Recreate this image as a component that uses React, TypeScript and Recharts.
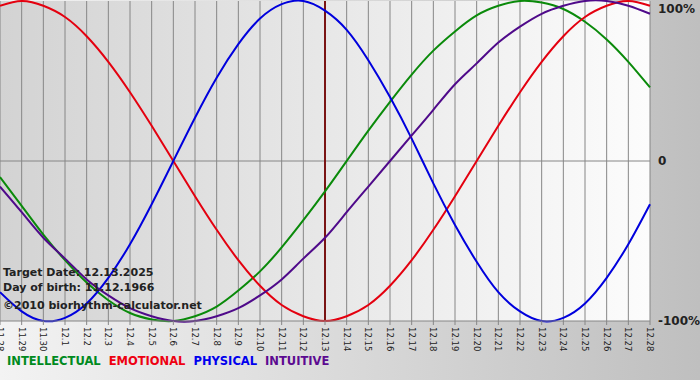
import { LineChart, Line, XAxis, YAxis, CartesianGrid, ReferenceLine } from 'recharts';

const days = [
  '11.28', '11.29', '11.30', '12.1', '12.2', '12.3', '12.4', '12.5', '12.6', '12.7', '12.8',
  '12.9', '12.10', '12.11', '12.12', '12.13', '12.14', '12.15', '12.16', '12.17', '12.18',
  '12.19', '12.20', '12.21', '12.22', '12.23', '12.24', '12.25', '12.26', '12.27', '12.28',
];

// values in percent, one per day
const intellectual = [
  -10, -28, -46, -62, -76, -87, -95, -99, -100, -97, -91, -81, -69, -54, -37, -19,
  0, 19, 37, 54, 69, 81, 91, 97, 100, 99, 95, 87, 76, 62, 46,
];
const emotional = [
  97, 100, 97, 90, 78, 62, 43, 22, 0, -22, -43, -62, -78, -90, -97, -100,
  -97, -90, -78, -62, -43, -22, 0, 22, 43, 62, 78, 90, 97, 100, 97,
];
const physical = [
  -82, -94, -100, -98, -89, -73, -52, -27, 0, 27, 52, 73, 89, 98, 100, 94,
  82, 63, 40, 14, -14, -40, -63, -82, -94, -100, -98, -89, -73, -52, -27,
];
const intuitive = [
  -16, -32, -48, -61, -74, -84, -92, -97, -100, -100, -97, -92, -84, -74, -61, -48,
  -32, -16, 0, 16, 32, 48, 61, 74, 84, 92, 97, 100, 100, 97, 92,
];

const targetDay = '12.13';
const yTicks = [-100, 0, 100];
const yLabels: Record<number, string> = { '-100': '-100%', 0: '0', 100: '100%' };

const infoLines = ['Target Date: 12.13.2025', 'Day of birth: 11.12.1966', '\u00a92010 biorhythm-calculator.net'];

const legendItems = [
  { name: 'INTELLECTUAL', color: '#008a1e' },
  { name: 'EMOTIONAL', color: '#ee0011' },
  { name: 'PHYSICAL', color: '#0000ee' },
  { name: 'INTUITIVE', color: '#5c0a91' },
];

const data = days.map((day, i) => ({
  day,
  intellectual: intellectual[i],
  emotional: emotional[i],
  physical: physical[i],
  intuitive: intuitive[i],
}));

const FONT = '"DejaVu Sans", Verdana, sans-serif';

function DayTick({ x, y, payload }: any) {
  return (
    <text
      x={x}
      y={y}
      transform={`rotate(90, ${x}, ${y})`}
      textAnchor="start"
      dominantBaseline="central"
      fontFamily={FONT}
      fontSize={8.5}
      fill="#222"
    >
      {payload.value}
    </text>
  );
}

function PercentTick({ x, y, payload }: any) {
  return (
    <text
      x={x}
      y={Math.max(y, 7)}
      textAnchor="start"
      dominantBaseline="central"
      fontFamily={FONT}
      fontSize={12}
      fontWeight="bold"
      fill="#222"
    >
      {yLabels[payload.value]}
    </text>
  );
}

export default function App() {
  return (
    <div
      style={{
        position: 'absolute',
        left: 0,
        top: 0,
        width: 700,
        height: 380,
        background: 'linear-gradient(to right, #f3f3f3, #bfbfbf)',
        fontFamily: FONT,
      }}
    >
      <LineChart width={700} height={380} data={data} margin={{ top: 1, right: 0, left: 0, bottom: 0 }}>
        <defs>
          <linearGradient id="plotBg" x1="0" y1="0" x2="1" y2="0">
            <stop offset="0" stopColor="#d3d3d3" />
            <stop offset="1" stopColor="#fcfcfc" />
          </linearGradient>
        </defs>
        <CartesianGrid fill="url(#plotBg)" fillOpacity={1} stroke="#868686" horizontal={false} />
        <XAxis
          dataKey="day"
          interval={0}
          height={59}
          tickSize={4}
          tickMargin={2}
          stroke="#868686"
          tick={<DayTick />}
        />
        <YAxis
          orientation="right"
          domain={[-100, 100]}
          ticks={yTicks}
          width={50}
          axisLine={false}
          tickLine={false}
          tickSize={0}
          tickMargin={8}
          tick={<PercentTick />}
        />
        <ReferenceLine y={0} stroke="#868686" />
        <ReferenceLine x={targetDay} stroke="#7a1414" strokeWidth={2} />
        <Line type="natural" dataKey="intellectual" stroke="#0a8a0a" strokeWidth={2} dot={false} isAnimationActive={false} />
        <Line type="natural" dataKey="emotional" stroke="#e4000f" strokeWidth={2} dot={false} isAnimationActive={false} />
        <Line type="natural" dataKey="physical" stroke="#0000dd" strokeWidth={2} dot={false} isAnimationActive={false} />
        <Line type="natural" dataKey="intuitive" stroke="#4f0a8a" strokeWidth={2} dot={false} isAnimationActive={false} />
      </LineChart>

      {infoLines.map((t, i) => (
        <div
          key={t}
          style={{
            position: 'absolute',
            left: 3,
            top: [266, 281, 299][i],
            fontSize: 11,
            lineHeight: '13px',
            fontWeight: 'bold',
            color: '#222',
            whiteSpace: 'nowrap',
          }}
        >
          {t}
        </div>
      ))}

      <div
        style={{
          position: 'absolute',
          left: 7,
          top: 355,
          display: 'flex',
          gap: 8,
          fontSize: 11.5,
          lineHeight: '13px',
          fontWeight: 'bold',
        }}
      >
        {legendItems.map((l) => (
          <span key={l.name} style={{ color: l.color }}>{l.name}</span>
        ))}
      </div>
    </div>
  );
}
